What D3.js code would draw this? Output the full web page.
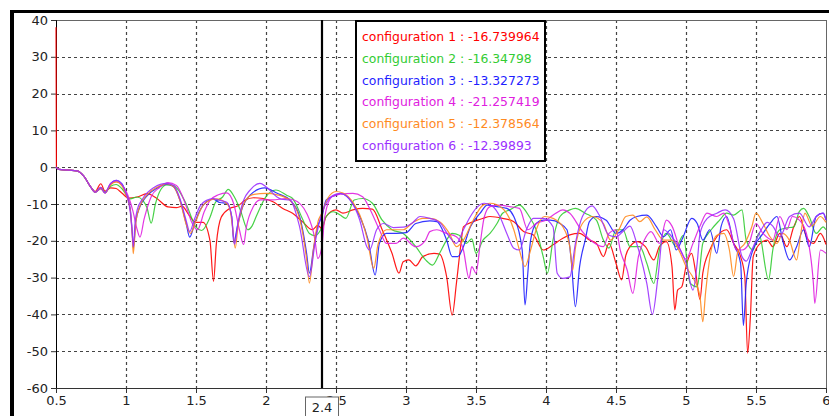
<!DOCTYPE html>
<html>
<head>
<meta charset="utf-8">
<script src="https://cdn.jsdelivr.net/npm/d3@7"></script>
<style>
  body { margin: 0; background: #fff; }
  svg { display: block; }
  .axis text { font-family: "DejaVu Sans", sans-serif; font-size: 13px; fill: #222; }
</style>
</head>
<body>
<div id="root"></div>
<script>
// series values, [frequency, dB]
const xTicks = [0.5, 1, 1.5, 2, 2.5, 3, 3.5, 4, 4.5, 5, 5.5, 6];
const yTicks = [-60, -50, -40, -30, -20, -10, 0, 10, 20, 30, 40];
const cursorX = 2.4;
const names = ["configuration 1", "configuration 2", "configuration 3", "configuration 4", "configuration 5", "configuration 6"];
const cursorValues = ["-16.739964", "-16.34798", "-13.327273", "-21.257419", "-12.378564", "-12.39893"];
const colors = ["#ff0000", "#33cc33", "#1f1fff", "#e020e0", "#ff8a1f", "#9b30ff"];

const conf1 = [[0.5,38],[0.503,0],[0.52,-0.6],[0.6,-0.8],[0.65,-1],[0.7,-2.5],[0.75,-5.5],[0.78,-6.6],[0.82,-4.5],[0.85,-6.5],[0.89,-5.6],[0.93,-5.8],[0.97,-7],[1.02,-8.4],[1.08,-8.1],[1.15,-7.2],[1.22,-8.5],[1.3,-10.8],[1.36,-11],[1.4,-10.6],[1.45,-13],[1.5,-15],[1.55,-15],[1.6,-20],[1.625,-31],[1.645,-21],[1.68,-13.6],[1.74,-11.2],[1.8,-10.5],[1.85,-9],[1.91,-8.3],[1.98,-8.5],[2.05,-9.4],[2.12,-11.2],[2.19,-12.5],[2.26,-14.8],[2.33,-17],[2.37,-15.8],[2.4,-16.7],[2.43,-13.4],[2.5,-11.6],[2.55,-12.5],[2.62,-11.6],[2.69,-11.2],[2.76,-11.4],[2.83,-17],[2.9,-23.4],[2.95,-28.8],[2.98,-25.7],[3.02,-25.2],[3.07,-26.8],[3.12,-24.3],[3.2,-23.4],[3.24,-23.6],[3.29,-29.7],[3.33,-40.2],[3.36,-31.6],[3.39,-21.6],[3.41,-16.2],[3.48,-14.8],[3.55,-13.9],[3.6,-13.4],[3.69,-13.9],[3.77,-14.8],[3.84,-17.5],[3.91,-18.4],[3.98,-22.5],[4.05,-21.1],[4.12,-19.3],[4.17,-18.4],[4.24,-18],[4.31,-19.8],[4.36,-20.7],[4.41,-24.3],[4.45,-20.7],[4.5,-26.1],[4.54,-30.6],[4.57,-24],[4.6,-21.6],[4.65,-20.2],[4.71,-21.6],[4.77,-25.2],[4.81,-21.6],[4.86,-20.2],[4.9,-27],[4.92,-38.8],[4.94,-33.4],[4.97,-32.5],[5.0,-27],[5.04,-23.4],[5.07,-28.8],[5.1,-36],[5.12,-28.8],[5.17,-22.5],[5.22,-18.9],[5.29,-17],[5.34,-20.7],[5.39,-24.3],[5.42,-29.7],[5.44,-50.5],[5.46,-40.6],[5.48,-24.3],[5.53,-20.7],[5.58,-19.8],[5.62,-21.6],[5.67,-18],[5.72,-21.6],[5.77,-16.2],[5.81,-13.4],[5.86,-18.9],[5.91,-20.7],[5.96,-18],[6.0,-21]];
const conf2 = [[0.5,0],[0.52,-0.6],[0.6,-0.8],[0.65,-1],[0.7,-2.5],[0.75,-5.5],[0.78,-6.8],[0.82,-5.5],[0.85,-6.8],[0.89,-5.2],[0.93,-4.7],[0.97,-5.8],[1.03,-8.6],[1.08,-8.1],[1.12,-9],[1.15,-11],[1.18,-15.2],[1.21,-10],[1.25,-6],[1.29,-4.8],[1.34,-5],[1.38,-6.5],[1.43,-10],[1.5,-16.3],[1.54,-17.2],[1.6,-13.6],[1.64,-9.5],[1.69,-8.1],[1.73,-6],[1.78,-8.5],[1.82,-12],[1.87,-17],[1.9,-16],[1.93,-13.4],[2.0,-8],[2.07,-6.2],[2.15,-7.7],[2.19,-8.5],[2.26,-14],[2.31,-18],[2.35,-18.6],[2.4,-16.3],[2.43,-13.4],[2.48,-12.1],[2.53,-13],[2.57,-13.9],[2.63,-8.9],[2.69,-8.5],[2.76,-9.8],[2.83,-14.4],[2.9,-17],[2.98,-18],[3.07,-21.6],[3.14,-25.2],[3.19,-26.6],[3.24,-23.4],[3.29,-19.8],[3.33,-18],[3.38,-18.5],[3.43,-20.7],[3.47,-19.5],[3.5,-23.4],[3.55,-19.8],[3.6,-18],[3.65,-15.3],[3.69,-12.5],[3.74,-11.6],[3.81,-10.3],[3.88,-13.4],[3.93,-17],[3.98,-24.3],[4.01,-28.8],[4.05,-19.8],[4.1,-13.4],[4.17,-11.6],[4.21,-11.2],[4.28,-12.5],[4.36,-14.4],[4.41,-19.8],[4.45,-22],[4.5,-17],[4.55,-17],[4.6,-21.6],[4.67,-21.6],[4.72,-26.1],[4.77,-31.6],[4.81,-22.5],[4.86,-18],[4.93,-21.6],[4.98,-18.5],[5.03,-31.6],[5.08,-32.5],[5.12,-20.7],[5.18,-17],[5.24,-14.4],[5.29,-12.5],[5.34,-13],[5.4,-11.6],[5.43,-19.8],[5.48,-22.5],[5.52,-18],[5.59,-30.6],[5.62,-22.5],[5.67,-17],[5.72,-16.5],[5.77,-16.2],[5.81,-12],[5.84,-11.2],[5.88,-13.4],[5.93,-18],[5.98,-16.2],[6.0,-17]];
const conf3 = [[0.5,0],[0.52,-0.6],[0.6,-0.8],[0.65,-1],[0.7,-2.5],[0.75,-5.5],[0.78,-6.8],[0.82,-5.8],[0.85,-7],[0.89,-4.5],[0.93,-3.6],[0.97,-4.5],[1.0,-7.1],[1.03,-11.2],[1.045,-18],[1.052,-22],[1.07,-14.8],[1.1,-10.7],[1.145,-8],[1.22,-5.7],[1.29,-4.6],[1.34,-5.3],[1.385,-8.9],[1.43,-15.3],[1.455,-19],[1.49,-15.3],[1.53,-11.6],[1.576,-9.4],[1.624,-8.7],[1.67,-9.6],[1.72,-9.8],[1.755,-13.4],[1.77,-20.5],[1.795,-16.2],[1.838,-10.3],[1.886,-7.6],[1.99,-5.6],[2.08,-7.1],[2.17,-8.9],[2.24,-13.4],[2.29,-23.4],[2.31,-28.8],[2.34,-22],[2.37,-16],[2.4,-13.3],[2.43,-8.9],[2.5,-7.6],[2.53,-7.1],[2.62,-9.8],[2.67,-13.4],[2.73,-19.8],[2.78,-29.3],[2.81,-20.7],[2.86,-18],[2.93,-18],[3.0,-17.8],[3.07,-15.3],[3.17,-14.6],[3.22,-14.8],[3.29,-19.8],[3.33,-24.3],[3.37,-24.3],[3.41,-21.6],[3.46,-16.2],[3.53,-12.5],[3.58,-10.3],[3.65,-10.7],[3.72,-11.2],[3.77,-13.4],[3.83,-22.5],[3.85,-37.4],[3.87,-28.8],[3.89,-19.8],[3.93,-15.3],[3.98,-14.4],[4.03,-14.4],[4.1,-15.3],[4.15,-17],[4.18,-25.2],[4.21,-37.9],[4.24,-27],[4.28,-19.8],[4.31,-14.8],[4.36,-13.4],[4.43,-14.4],[4.5,-18],[4.55,-17],[4.6,-14.4],[4.65,-13.4],[4.72,-13],[4.79,-16.2],[4.84,-18.9],[4.89,-17],[4.93,-22.5],[4.98,-18.9],[5.04,-13.9],[5.08,-15.3],[5.12,-19.8],[5.17,-17],[5.22,-23.4],[5.25,-16.2],[5.29,-13.4],[5.34,-20.7],[5.39,-26.1],[5.41,-43],[5.43,-31.6],[5.47,-23.4],[5.55,-18],[5.6,-15.3],[5.65,-13.4],[5.69,-19.8],[5.74,-25.2],[5.79,-21.6],[5.84,-17],[5.88,-21.6],[5.93,-13.4],[5.98,-12.5],[6.0,-14.4]];
const conf4 = [[0.5,0],[0.52,-0.6],[0.6,-0.8],[0.65,-1],[0.7,-2.5],[0.75,-5.5],[0.78,-6.8],[0.82,-5.5],[0.85,-7],[0.89,-4.5],[0.93,-3.9],[0.97,-4.8],[1.0,-6.5],[1.05,-12],[1.08,-17],[1.1,-19],[1.13,-14],[1.18,-8],[1.24,-5.5],[1.3,-4.2],[1.36,-5],[1.42,-9.5],[1.47,-15],[1.51,-17],[1.56,-12],[1.6,-9],[1.66,-7.5],[1.72,-7],[1.77,-10],[1.81,-17],[1.84,-21],[1.86,-16.2],[1.91,-10.7],[1.96,-8.9],[2.05,-8.9],[2.14,-8.5],[2.2,-8.9],[2.29,-12.5],[2.35,-19.8],[2.37,-24.8],[2.4,-21.3],[2.42,-13.4],[2.47,-8],[2.53,-7.3],[2.62,-7.1],[2.69,-8],[2.74,-11.2],[2.81,-17],[2.86,-20.7],[2.93,-20.7],[2.98,-19.3],[3.07,-21.6],[3.14,-19.8],[3.17,-17.5],[3.22,-17],[3.29,-18],[3.36,-18.9],[3.41,-22.5],[3.45,-30.2],[3.47,-27],[3.5,-28.8],[3.53,-20.7],[3.56,-13.4],[3.6,-10.7],[3.67,-10.3],[3.74,-10.7],[3.81,-11.2],[3.87,-17],[3.93,-15.3],[4.0,-14.4],[4.07,-12.5],[4.12,-11.6],[4.17,-12.5],[4.26,-17.5],[4.33,-20.2],[4.41,-21.6],[4.45,-18],[4.5,-17],[4.53,-22.5],[4.58,-28],[4.62,-34.3],[4.66,-24.3],[4.7,-20],[4.75,-17.5],[4.81,-20.7],[4.86,-14.4],[4.9,-16],[4.96,-22.5],[5.0,-25],[5.05,-20.7],[5.1,-16],[5.15,-12.5],[5.22,-13.4],[5.27,-12.5],[5.31,-16],[5.36,-22.5],[5.4,-22.5],[5.45,-20.7],[5.5,-15.3],[5.55,-18],[5.62,-19.8],[5.67,-13.4],[5.72,-17],[5.76,-13.4],[5.81,-14.4],[5.86,-18],[5.91,-31.6],[5.92,-37],[5.96,-22.5],[6.0,-23.4]];
const conf5 = [[0.5,0],[0.52,-0.6],[0.6,-0.8],[0.65,-1],[0.7,-2.5],[0.75,-5.5],[0.78,-6.8],[0.82,-5.8],[0.85,-7],[0.89,-4.8],[0.93,-4],[0.97,-5],[1.0,-7.5],[1.03,-11.5],[1.045,-19],[1.052,-23.5],[1.07,-15],[1.1,-10.5],[1.15,-7.5],[1.22,-5.5],[1.29,-4.5],[1.34,-5.3],[1.385,-9],[1.43,-15.5],[1.46,-18],[1.5,-14.5],[1.54,-11],[1.6,-9],[1.65,-8.6],[1.7,-9.3],[1.74,-11],[1.76,-16],[1.78,-22],[1.8,-16],[1.84,-10],[1.9,-7.5],[2.0,-7.1],[2.08,-7.5],[2.17,-9],[2.24,-14],[2.29,-25],[2.31,-31.5],[2.34,-22],[2.37,-15],[2.4,-12.4],[2.44,-8.5],[2.5,-6.6],[2.55,-7],[2.62,-9.5],[2.67,-13],[2.72,-19],[2.77,-27.5],[2.8,-21],[2.86,-17],[2.93,-17],[2.98,-17],[3.05,-15],[3.12,-13.9],[3.17,-13.9],[3.24,-14.8],[3.31,-18],[3.36,-21.6],[3.41,-19.8],[3.48,-14.4],[3.55,-10.3],[3.6,-9.8],[3.69,-11.2],[3.77,-17],[3.81,-22.5],[3.85,-27],[3.89,-22.5],[3.93,-17],[3.99,-13.4],[4.05,-13.9],[4.12,-16.2],[4.17,-21.6],[4.19,-28],[4.21,-22],[4.26,-15.3],[4.33,-13.4],[4.41,-15.3],[4.46,-19.8],[4.52,-17],[4.57,-13.4],[4.62,-13],[4.67,-14.8],[4.72,-13.5],[4.78,-17],[4.84,-19.8],[4.9,-19.8],[4.96,-23.4],[5.0,-27],[5.05,-30],[5.1,-35.2],[5.12,-42],[5.14,-34],[5.18,-22.5],[5.22,-18.5],[5.27,-18],[5.31,-22.5],[5.34,-29.7],[5.37,-23],[5.42,-20.7],[5.47,-16.2],[5.5,-12.5],[5.55,-15.3],[5.6,-18.9],[5.65,-20.7],[5.69,-18],[5.74,-20],[5.79,-25.2],[5.82,-18],[5.85,-12.5],[5.9,-16],[5.96,-13.4],[6.0,-15]];
const conf6 = [[0.5,0],[0.52,-0.6],[0.6,-0.8],[0.65,-1],[0.7,-2.5],[0.75,-5.5],[0.78,-6.8],[0.82,-5.6],[0.85,-7],[0.89,-4.4],[0.93,-3.6],[0.97,-4.6],[1.0,-7],[1.03,-12],[1.045,-18],[1.052,-21.6],[1.065,-15],[1.08,-11.6],[1.12,-8.5],[1.2,-5.5],[1.29,-4.4],[1.34,-5],[1.385,-8.5],[1.43,-14.5],[1.455,-17.5],[1.49,-14],[1.53,-10.5],[1.58,-8.9],[1.62,-8.5],[1.67,-9],[1.72,-9.5],[1.755,-13.4],[1.775,-21],[1.8,-15],[1.84,-9],[1.886,-6.2],[1.957,-4.4],[2.0,-5.3],[2.076,-8],[2.11,-8.7],[2.17,-8.9],[2.24,-16.2],[2.31,-29.8],[2.35,-20.7],[2.385,-14.4],[2.4,-12.4],[2.43,-9.8],[2.48,-7.6],[2.53,-7.1],[2.6,-8.9],[2.67,-14.4],[2.72,-21.6],[2.74,-22.5],[2.79,-17],[2.84,-15.3],[2.91,-16.4],[2.98,-16.3],[3.05,-15],[3.1,-13.4],[3.17,-13.9],[3.24,-15],[3.31,-18.9],[3.36,-20.7],[3.41,-17],[3.46,-13.4],[3.5,-11.2],[3.56,-9.8],[3.62,-10.7],[3.67,-13.4],[3.72,-18],[3.77,-22],[3.81,-22.5],[3.86,-17],[3.91,-13.9],[3.98,-13.9],[4.05,-16.2],[4.08,-28.8],[4.12,-30.2],[4.17,-29.8],[4.21,-20.7],[4.26,-13.4],[4.33,-10.5],[4.38,-13],[4.45,-18.5],[4.5,-18.9],[4.55,-17.5],[4.6,-16],[4.65,-21],[4.72,-31.6],[4.76,-40],[4.8,-29.8],[4.84,-17],[4.89,-18.5],[4.96,-22.5],[5.0,-26],[5.05,-33.4],[5.08,-26],[5.1,-18],[5.15,-14],[5.22,-12.5],[5.28,-11.6],[5.34,-14],[5.4,-24.3],[5.43,-25.5],[5.47,-22.5],[5.53,-17.5],[5.58,-15],[5.62,-16],[5.67,-18.9],[5.74,-13.4],[5.81,-12.5],[5.88,-16.2],[5.93,-13.4],[5.98,-12.5],[6.0,-14.4]];
const series = [conf1, conf2, conf3, conf4, conf5, conf6];

const width = 829, height = 416;
const svg = d3.select("#root").append("svg").attr("width", width).attr("height", height);

// window frame on the left and top
svg.append("rect").attr("x", 10).attr("y", 10).attr("width", 4).attr("height", height - 10).attr("fill", "#000");
svg.append("rect").attr("x", 10).attr("y", 10).attr("width", width - 10).attr("height", 3).attr("fill", "#000");

const x = d3.scaleLinear().domain([0.5, 6]).range([56, 826]);
const y = d3.scaleLinear().domain([-60, 40]).range([388, 20]);

// grid
const grid = svg.append("g").attr("stroke", "#444").attr("stroke-width", 1.2).attr("stroke-dasharray", "3,3");
grid.selectAll(".gx").data(xTicks.slice(1, -1)).enter().append("line")
  .attr("x1", d => Math.round(x(d)) + 0.5).attr("x2", d => Math.round(x(d)) + 0.5)
  .attr("y1", y(40)).attr("y2", y(-60));
grid.selectAll(".gy").data(yTicks.slice(1, -1)).enter().append("line")
  .attr("y1", d => Math.round(y(d)) + 0.5).attr("y2", d => Math.round(y(d)) + 0.5)
  .attr("x1", x(0.5)).attr("x2", x(6));

// plot frame top and right
svg.append("line").attr("x1", x(0.5)).attr("x2", x(6)).attr("y1", y(40) + 0.5).attr("y2", y(40) + 0.5).attr("stroke", "#666");
svg.append("line").attr("x1", x(6) + 0.5).attr("x2", x(6) + 0.5).attr("y1", y(40)).attr("y2", y(-60)).attr("stroke", "#666");

// axes
const yAxis = svg.append("g").attr("class", "axis").attr("transform", "translate(" + x(0.5) + ",0)")
  .call(d3.axisLeft(y).tickValues(yTicks).tickSize(5).tickPadding(3).tickFormat(d => d));
yAxis.select(".domain").attr("stroke", "#000");
const xAxis = svg.append("g").attr("class", "axis").attr("transform", "translate(0," + y(-60) + ")")
  .call(d3.axisBottom(x).tickValues(xTicks).tickSize(5).tickPadding(3).tickFormat(d => d));
xAxis.select(".domain").attr("stroke", "#333");
svg.selectAll(".axis .tick line").attr("stroke", "#333");

// curves, drawn over the axes so the spike at 0.5 stays visible
const line = d3.line().x(d => x(d[0])).y(d => y(d[1])).curve(d3.curveMonotoneX);
svg.append("g").selectAll("path").data(series).enter().append("path")
  .attr("d", line)
  .attr("fill", "none")
  .attr("stroke", (d, i) => colors[i])
  .attr("stroke-width", 1.2)
  .attr("stroke-opacity", 0.9);

// cursor
svg.append("line").attr("x1", x(cursorX)).attr("x2", x(cursorX)).attr("y1", y(40)).attr("y2", y(-60))
  .attr("stroke", "#000").attr("stroke-width", 2.2);
const cur = svg.append("g").attr("transform", "translate(" + x(cursorX) + "," + (y(-60) + 9) + ")");
cur.append("rect").attr("x", -16.5).attr("y", 0).attr("width", 33).attr("height", 22)
  .attr("fill", "#fff").attr("stroke", "#666");
cur.append("text").attr("x", 0).attr("y", 15).attr("text-anchor", "middle")
  .attr("font-family", "DejaVu Sans, sans-serif").attr("font-size", 13).attr("fill", "#222").text(cursorX);

// legend with cursor values
const legend = svg.append("g").attr("transform", "translate(356,21)");
legend.append("rect").attr("x", 0).attr("y", 0).attr("width", 189).attr("height", 140)
  .attr("fill", "#fff").attr("stroke", "#000").attr("stroke-width", 2);
legend.selectAll("text").data(names).enter().append("text")
  .attr("x", 6).attr("y", (d, i) => 20 + i * 21.8)
  .attr("font-family", "DejaVu Sans, sans-serif").attr("font-size", 12.4)
  .attr("fill", (d, i) => colors[i])
  .text((d, i) => d + " : " + cursorValues[i]);
</script>
</body>
</html>
